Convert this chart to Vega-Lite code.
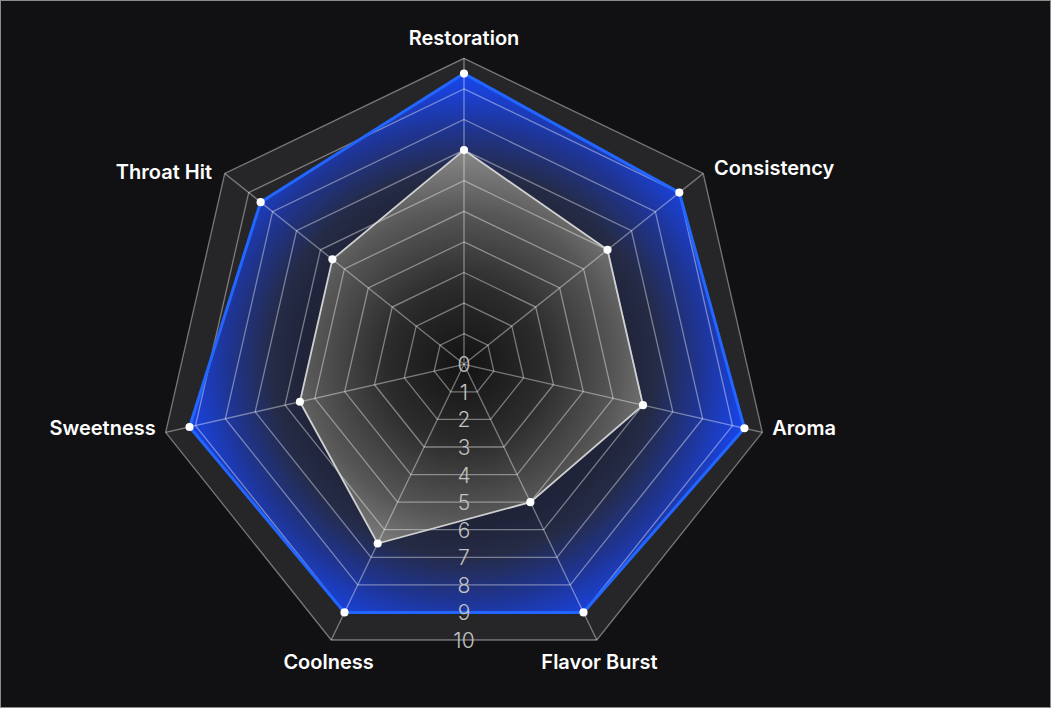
{
  "$schema": "https://vega.github.io/schema/vega-lite/v6.json",
  "width": 1051,
  "height": 708,
  "autosize": {"type": "fit", "contains": "padding"},
  "padding": 0,
  "background": "#111113",
  "config": {"view": {"stroke": "#8c8c8c", "strokeWidth": 2}},
  "datasets": {
    "axes": [
      {"axis": "Restoration", "idx": 0, "rings": [1, 2, 3, 4, 5, 6, 7, 8, 9, 10]},
      {"axis": "Consistency", "idx": 1, "rings": [1, 2, 3, 4, 5, 6, 7, 8, 9, 10]},
      {"axis": "Aroma", "idx": 2, "rings": [1, 2, 3, 4, 5, 6, 7, 8, 9, 10]},
      {"axis": "Flavor Burst", "idx": 3, "rings": [1, 2, 3, 4, 5, 6, 7, 8, 9, 10]},
      {"axis": "Coolness", "idx": 4, "rings": [1, 2, 3, 4, 5, 6, 7, 8, 9, 10]},
      {"axis": "Sweetness", "idx": 5, "rings": [1, 2, 3, 4, 5, 6, 7, 8, 9, 10]},
      {"axis": "Throat Hit", "idx": 6, "rings": [1, 2, 3, 4, 5, 6, 7, 8, 9, 10]}
    ],
    "scores": [
      {"series": "Blue", "axis": "Restoration", "idx": 0, "value": 9.5},
      {"series": "Blue", "axis": "Consistency", "idx": 1, "value": 9},
      {"series": "Blue", "axis": "Aroma", "idx": 2, "value": 9.4},
      {"series": "Blue", "axis": "Flavor Burst", "idx": 3, "value": 9},
      {"series": "Blue", "axis": "Coolness", "idx": 4, "value": 9},
      {"series": "Blue", "axis": "Sweetness", "idx": 5, "value": 9.2},
      {"series": "Blue", "axis": "Throat Hit", "idx": 6, "value": 8.5},
      {"series": "Grey", "axis": "Restoration", "idx": 0, "value": 7},
      {"series": "Grey", "axis": "Consistency", "idx": 1, "value": 6},
      {"series": "Grey", "axis": "Aroma", "idx": 2, "value": 6},
      {"series": "Grey", "axis": "Flavor Burst", "idx": 3, "value": 5},
      {"series": "Grey", "axis": "Coolness", "idx": 4, "value": 6.5},
      {"series": "Grey", "axis": "Sweetness", "idx": 5, "value": 5.5},
      {"series": "Grey", "axis": "Throat Hit", "idx": 6, "value": 5.5}
    ],
    "levels": [
      {"level": 0}, {"level": 1}, {"level": 2}, {"level": 3}, {"level": 4}, {"level": 5},
      {"level": 6}, {"level": 7}, {"level": 8}, {"level": 9}, {"level": 10}
    ]
  },
  "encoding": {
    "x": {"field": "x", "type": "quantitative", "scale": {"domain": [-15.163, 19.183], "nice": false, "zero": false}, "axis": null},
    "y": {"field": "y", "type": "quantitative", "scale": {"domain": [-11.232, 11.905], "nice": false, "zero": false}, "axis": null}
  },
  "layer": [
    {
      "data": {"name": "axes"},
      "transform": [
        {"calculate": "10*sin(datum.idx*2*PI/7)", "as": "x"},
        {"calculate": "10*cos(datum.idx*2*PI/7)", "as": "y"}
      ],
      "mark": {"type": "line", "interpolate": "linear-closed", "fill": "#262628", "strokeWidth": 0},
      "encoding": {"order": {"field": "idx", "type": "quantitative"}}
    },
    {
      "data": {"name": "scores"},
      "transform": [
        {"filter": "datum.series == 'Blue'"},
        {"calculate": "datum.value*sin(datum.idx*2*PI/7)", "as": "x"},
        {"calculate": "datum.value*cos(datum.idx*2*PI/7)", "as": "y"}
      ],
      "mark": {
        "type": "line", "interpolate": "linear-closed", "strokeWidth": 0,
        "fill": {
          "gradient": "radial", "x1": 0.495, "y1": 0.538, "r1": 0, "x2": 0.495, "y2": 0.538, "r2": 0.53,
          "stops": [
            {"offset": 0, "color": "#15171f"},
            {"offset": 0.55, "color": "#20243a"},
            {"offset": 0.65, "color": "#252b45"},
            {"offset": 0.8, "color": "#1f3490"},
            {"offset": 0.92, "color": "#1a40d2"},
            {"offset": 1, "color": "#1848f5"}
          ]
        }
      },
      "encoding": {"order": {"field": "idx", "type": "quantitative"}}
    },
    {
      "data": {"name": "scores"},
      "transform": [
        {"filter": "datum.series == 'Grey'"},
        {"calculate": "datum.value*sin(datum.idx*2*PI/7)", "as": "x"},
        {"calculate": "datum.value*cos(datum.idx*2*PI/7)", "as": "y"}
      ],
      "mark": {
        "type": "line", "interpolate": "linear-closed", "strokeWidth": 0,
        "fill": {
          "gradient": "radial", "x1": 0.481, "y1": 0.544, "r1": 0, "x2": 0.481, "y2": 0.544, "r2": 0.56,
          "stops": [
            {"offset": 0, "color": "#131313"},
            {"offset": 0.35, "color": "#2b2b2b"},
            {"offset": 0.7, "color": "#585858"},
            {"offset": 1, "color": "#8e8e8e"}
          ]
        }
      },
      "encoding": {"order": {"field": "idx", "type": "quantitative"}}
    },
    {
      "data": {"name": "axes"},
      "transform": [
        {"flatten": ["rings"], "as": ["ring"]},
        {"calculate": "datum.ring*sin(datum.idx*2*PI/7)", "as": "x"},
        {"calculate": "datum.ring*cos(datum.idx*2*PI/7)", "as": "y"}
      ],
      "mark": {"type": "line", "interpolate": "linear-closed", "stroke": "#ffffff", "strokeOpacity": 0.4, "strokeWidth": 1.3},
      "encoding": {
        "detail": {"field": "ring", "type": "nominal"},
        "order": {"field": "idx", "type": "quantitative"}
      }
    },
    {
      "data": {"name": "axes"},
      "transform": [
        {"calculate": "10*sin(datum.idx*2*PI/7)", "as": "x"},
        {"calculate": "10*cos(datum.idx*2*PI/7)", "as": "y"},
        {"calculate": "0", "as": "o"}
      ],
      "mark": {"type": "rule", "stroke": "#ffffff", "strokeOpacity": 0.4, "strokeWidth": 1.3},
      "encoding": {
        "x2": {"field": "o"},
        "y2": {"field": "o"}
      }
    },
    {
      "data": {"name": "scores"},
      "transform": [
        {"filter": "datum.series == 'Blue'"},
        {"calculate": "datum.value*sin(datum.idx*2*PI/7)", "as": "x"},
        {"calculate": "datum.value*cos(datum.idx*2*PI/7)", "as": "y"}
      ],
      "mark": {"type": "line", "interpolate": "linear-closed", "stroke": "#2266ff", "strokeWidth": 3},
      "encoding": {"order": {"field": "idx", "type": "quantitative"}}
    },
    {
      "data": {"name": "scores"},
      "transform": [
        {"filter": "datum.series == 'Grey'"},
        {"calculate": "datum.value*sin(datum.idx*2*PI/7)", "as": "x"},
        {"calculate": "datum.value*cos(datum.idx*2*PI/7)", "as": "y"}
      ],
      "mark": {"type": "line", "interpolate": "linear-closed", "stroke": "#d0d0d0", "strokeWidth": 1.8},
      "encoding": {"order": {"field": "idx", "type": "quantitative"}}
    },
    {
      "data": {"name": "scores"},
      "transform": [
        {"calculate": "datum.value*sin(datum.idx*2*PI/7)", "as": "x"},
        {"calculate": "datum.value*cos(datum.idx*2*PI/7)", "as": "y"}
      ],
      "mark": {"type": "point", "filled": true, "fill": "#ffffff", "opacity": 1, "size": 66, "strokeWidth": 0}
    },
    {
      "data": {"name": "levels"},
      "transform": [
        {"calculate": "0", "as": "x"},
        {"calculate": "-datum.level*cos(PI/7)", "as": "y"}
      ],
      "mark": {"type": "text", "align": "center", "baseline": "middle", "dy": 2, "font": "Inter", "fontWeight": 300, "fontSize": 21, "fill": "#c2c2c2"},
      "encoding": {"text": {"field": "level", "type": "quantitative"}}
    },
    {
      "data": {"name": "axes"},
      "transform": [
        {"filter": "datum.idx == 0"},
        {"calculate": "10.2*sin(datum.idx*2*PI/7)", "as": "x"},
        {"calculate": "10.2*cos(datum.idx*2*PI/7)", "as": "y"}
      ],
      "mark": {"type": "text", "align": "center", "baseline": "middle", "dy": -13, "font": "Inter", "fontWeight": 600, "fontSize": 20, "fill": "#ffffff"},
      "encoding": {"text": {"field": "axis", "type": "nominal"}}
    },
    {
      "data": {"name": "axes"},
      "transform": [
        {"filter": "datum.idx == 3 || datum.idx == 4"},
        {"calculate": "10.2*sin(datum.idx*2*PI/7)", "as": "x"},
        {"calculate": "10.2*cos(datum.idx*2*PI/7)", "as": "y"}
      ],
      "mark": {"type": "text", "align": "center", "baseline": "middle", "dy": 17, "font": "Inter", "fontWeight": 600, "fontSize": 20, "fill": "#ffffff"},
      "encoding": {"text": {"field": "axis", "type": "nominal"}}
    },
    {
      "data": {"name": "axes"},
      "transform": [
        {"filter": "datum.idx == 1"},
        {"calculate": "10.2*sin(datum.idx*2*PI/7)", "as": "x"},
        {"calculate": "10.2*cos(datum.idx*2*PI/7)", "as": "y"}
      ],
      "mark": {"type": "text", "align": "left", "baseline": "middle", "dx": 6, "dy": -1, "font": "Inter", "fontWeight": 600, "fontSize": 20, "fill": "#ffffff"},
      "encoding": {"text": {"field": "axis", "type": "nominal"}}
    },
    {
      "data": {"name": "axes"},
      "transform": [
        {"filter": "datum.idx == 2"},
        {"calculate": "10.2*sin(datum.idx*2*PI/7)", "as": "x"},
        {"calculate": "10.2*cos(datum.idx*2*PI/7)", "as": "y"}
      ],
      "mark": {"type": "text", "align": "left", "baseline": "middle", "dx": 4, "dy": -5, "font": "Inter", "fontWeight": 600, "fontSize": 20, "fill": "#ffffff"},
      "encoding": {"text": {"field": "axis", "type": "nominal"}}
    },
    {
      "data": {"name": "axes"},
      "transform": [
        {"filter": "datum.idx == 5"},
        {"calculate": "10.2*sin(datum.idx*2*PI/7)", "as": "x"},
        {"calculate": "10.2*cos(datum.idx*2*PI/7)", "as": "y"}
      ],
      "mark": {"type": "text", "align": "right", "baseline": "middle", "dx": -4, "dy": -5, "font": "Inter", "fontWeight": 600, "fontSize": 20, "fill": "#ffffff"},
      "encoding": {"text": {"field": "axis", "type": "nominal"}}
    },
    {
      "data": {"name": "axes"},
      "transform": [
        {"filter": "datum.idx == 6"},
        {"calculate": "10.2*sin(datum.idx*2*PI/7)", "as": "x"},
        {"calculate": "10.2*cos(datum.idx*2*PI/7)", "as": "y"}
      ],
      "mark": {"type": "text", "align": "right", "baseline": "middle", "dx": -8, "dy": 3, "font": "Inter", "fontWeight": 600, "fontSize": 20, "fill": "#ffffff"},
      "encoding": {"text": {"field": "axis", "type": "nominal"}}
    }
  ]
}
